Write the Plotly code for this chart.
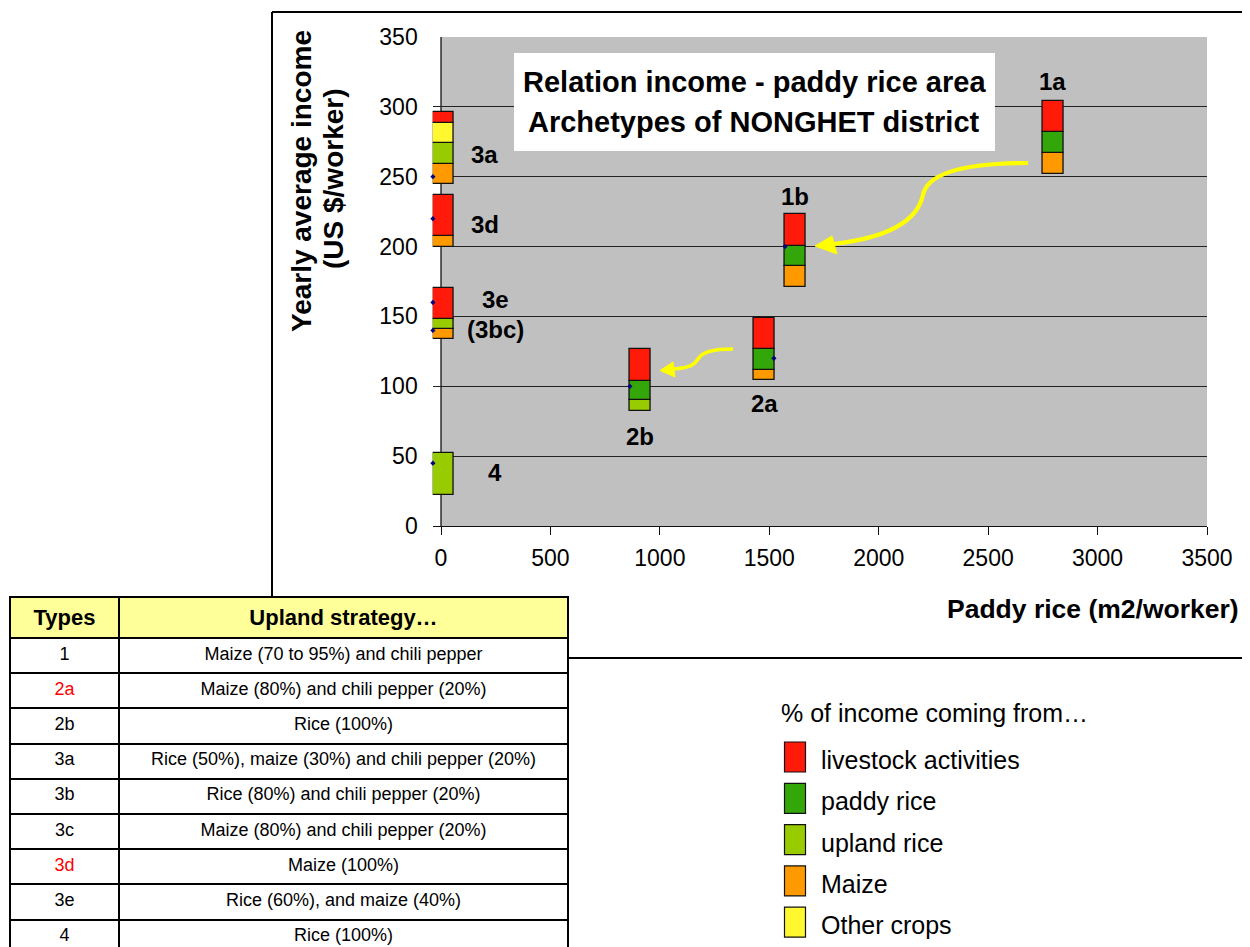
import plotly.graph_objects as go

W, H = 1250, 962
OFF = 8  # page body margin of the html page

# ---------------- data ----------------
types = ["1a", "1b", "2a", "2b", "3a", "3d", "3e", "4"]
paddy_area = [2797, 1618, 1475, 909, 12, 12, 12, 12]          # m2/worker (box centre)
stack_base = [252, 171, 104.5, 82.5, 245, 200, 134, 22.5]      # US$/worker (box bottom)

# income segments, stacked bottom -> top
sources = ["Maize", "upland rice", "paddy rice", "Other crops", "livestock activities"]
maize = [15, 15, 7.5, 0, 14, 7.5, 7, 0]
upland_rice = [0, 0, 0, 7.5, 15, 0, 7.5, 29.5]
paddy_rice = [15, 14.5, 14.5, 14, 0, 0, 0, 0]
other_crops = [0, 0, 0, 0, 14.5, 0, 0, 0]
livestock = [22, 22.5, 22.5, 22.5, 7.5, 29.5, 22, 0]
segments = [maize, upland_rice, paddy_rice, other_crops, livestock]
colors = {"livestock activities": "#FF1A0A", "paddy rice": "#33A60A",
          "upland rice": "#99CC00", "Maize": "#FF9900", "Other crops": "#FFF830"}
legend_order = ["livestock activities", "paddy rice", "upland rice", "Maize", "Other crops"]

# scatter points (average income)
point_x = [-37, -37, -37, -37, -37, 863, 1521, 1572]
point_y = [250, 220, 160, 140, 45, 100, 120, 200]

# labels of archetypes (data position)
label_text = ["1a", "1b", "2a", "2b", "3a", "3d", "3e", "(3bc)", "4"]
label_x = [2796, 1617, 1476, 909, 201, 201, 249, 249, 247]
label_y = [318.5, 235.5, 88, 64.4, 265.6, 215.5, 161.8, 141, 38]

# table
table_types = ["1", "2a", "2b", "3a", "3b", "3c", "3d", "3e", "4"]
table_strategy = ["Maize (70 to 95%) and chili pepper",
                  "Maize (80%) and chili pepper (20%)",
                  "Rice (100%)",
                  "Rice (50%), maize (30%) and chili pepper (20%)",
                  "Rice (80%) and chili pepper (20%)",
                  "Maize (80%) and chili pepper (20%)",
                  "Maize (100%)",
                  "Rice (60%), and maize (40%)",
                  "Rice (100%)"]
table_highlight = ["2a", "3d"]

x_ticks = [0, 500, 1000, 1500, 2000, 2500, 3000, 3500]
y_ticks = [0, 50, 100, 150, 200, 250, 300, 350]
x_range = [-38, 3500]
y_range = [0, 350]

FONT = "Arial, Liberation Sans, sans-serif"


def px(x):
    return (x - OFF) / W


def py(y):
    return 1 - (y - OFF) / H


# plot area on screen (x=0 .. 3500, y=0 .. 350)
X0_PX, X1_PX, Y0_PX, Y1_PX = 441, 1207, 526, 37
per_unit = (X1_PX - X0_PX) / (x_ticks[-1] - x_ticks[0])
left_px = X0_PX + (x_range[0] - x_ticks[0]) * per_unit

fig = go.Figure()

# stacked boxes
running = list(stack_base)
for name, vals in zip(sources, segments):
    xs, bs, hs = [], [], []
    for i, v in enumerate(vals):
        if v > 0:
            xs.append(paddy_area[i])
            bs.append(running[i])
            hs.append(v)
            running[i] += v
    fig.add_trace(go.Bar(x=xs, y=hs, base=bs, width=96, name=name,
                         marker=dict(color=colors[name], line=dict(color="#111", width=1.3)),
                         cliponaxis=False, showlegend=False, hoverinfo="skip"))

fig.add_trace(go.Scatter(x=point_x, y=point_y, mode="markers", cliponaxis=False,
                         marker=dict(color="#000080", size=4, symbol="diamond"),
                         showlegend=False, hoverinfo="skip"))

# table
cell_colors = [["red" if t in table_highlight else "black" for t in table_types],
               ["black"] * len(table_types)]
fig.add_trace(go.Table(
    domain=dict(x=[px(10), px(568)], y=[0, py(597)]),
    columnwidth=[109, 449],
    header=dict(values=["<b>Types</b>", "<b>Upland strategy…</b>"],
                fill_color="#FFFF99", line=dict(color="black", width=2),
                font=dict(family=FONT, size=22, color="black"), height=39, align="center"),
    cells=dict(values=[table_types, table_strategy],
               fill_color="white", line=dict(color="black", width=2),
               font=dict(family=FONT, size=18, color=cell_colors), height=35.2, align="center"),
))

shapes = []
# gray plotting area (x from 0) and value axis line at x = 0
shapes.append(dict(type="rect", xref="x", yref="y", x0=x_ticks[0], x1=x_ticks[-1],
                   y0=y_range[0], y1=y_range[1], fillcolor="#C0C0C0", line=dict(width=0),
                   layer="below"))
shapes.append(dict(type="line", xref="x", yref="y", x0=x_ticks[0], x1=x_ticks[0],
                   y0=y_range[0], y1=y_range[1], line=dict(color="#111", width=1.3),
                   layer="below"))
# outer chart border
for (x0, y0, x1, y1) in [(272, 12, 1260, 12), (272, 12, 272, 597), (568, 658, 1260, 658)]:
    shapes.append(dict(type="line", xref="paper", yref="paper", x0=px(x0), y0=py(y0),
                       x1=px(x1), y1=py(y1), line=dict(color="black", width=2)))
# title box
shapes.append(dict(type="rect", xref="paper", yref="paper", x0=px(514), y0=py(53), x1=px(995),
                   y1=py(151), fillcolor="white", line=dict(width=0), layer="above"))


def path(points):
    s = "M %f,%f" % (px(points[0][0]), py(points[0][1]))
    for k in range(1, len(points), 3):
        s += " C " + " ".join("%f,%f" % (px(a), py(b)) for a, b in points[k:k + 3])
    return s


def tri(points):
    return "M " + " L ".join("%f,%f" % (px(a), py(b)) for a, b in points) + " Z"


arrow1 = [(1028, 163), (975, 163), (928, 170), (923, 195), (917, 222), (885, 238), (834, 244)]
head1 = [(815, 246), (832, 236), (837, 254)]
arrow2 = [(733, 349), (712, 349), (702, 352), (698, 359), (693, 367), (685, 368), (673, 369)]
head2 = [(660, 370.5), (673, 362), (675, 377)]
for a, hd, w in [(arrow1, head1, 4.2), (arrow2, head2, 3.6)]:
    shapes.append(dict(type="path", xref="paper", yref="paper", path=path(a),
                       line=dict(color="#FFFF00", width=w), layer="above"))
    shapes.append(dict(type="path", xref="paper", yref="paper", path=tri(hd),
                       fillcolor="#FFFF00", line=dict(color="#FFFF00", width=1), layer="above"))

# legend boxes
legend_top = [742, 783.3, 824.6, 865.9, 907.2]
for name, top in zip(legend_order, legend_top):
    shapes.append(dict(type="rect", xref="paper", yref="paper", x0=px(784.5), x1=px(805.5),
                       y0=py(top), y1=py(top + 30), fillcolor=colors[name],
                       line=dict(color="#111", width=1.2)))

annotations = []
for t, xv, yv in zip(label_text, label_x, label_y):
    annotations.append(dict(x=xv, y=yv, xref="x", yref="y", text="<b>%s</b>" % t,
                            xanchor="center", yanchor="middle",
                            showarrow=False, font=dict(family=FONT, size=24, color="black")))


def note(x, y, text, size, bold=False, xanchor="center", angle=0):
    annotations.append(dict(x=px(x), y=py(y), xref="paper", yref="paper", showarrow=False,
                            xanchor=xanchor, yanchor="middle", textangle=angle,
                            text=("<b>%s</b>" % text) if bold else text,
                            font=dict(family=FONT, size=size, color="black")))


note(754.5, 82, "Relation income - paddy rice area", 29, bold=True)
note(754.5, 122, "Archetypes of NONGHET district", 29, bold=True)
note(302, 181, "Yearly average income", 28, bold=True, angle=-90)
note(333, 179, "(US $/worker)", 28, bold=True, angle=-90)
note(1241, 609, "Paddy rice (m2/worker)", 26.5, bold=True, xanchor="right")
note(779, 713, "% of income coming from…", 25, xanchor="left")
for name, top in zip(legend_order, legend_top):
    note(819, top + 18, name, 25, xanchor="left")

fig.update_layout(
    width=W, height=H, margin=dict(l=0, r=0, t=0, b=0),
    paper_bgcolor="white", plot_bgcolor="rgba(0,0,0,0)",
    barmode="overlay", bargap=0,
    font=dict(family=FONT, size=23, color="black"),
    shapes=shapes, annotations=annotations,
    xaxis=dict(domain=[px(left_px), px(X1_PX)], range=x_range, tickvals=x_ticks,
               showgrid=False, zeroline=False,
               showline=True, linecolor="#111", linewidth=1.3,
               ticks="outside", ticklen=8, tickcolor="#111", tickwidth=1.3,
               ticklabelstandoff=3, tickfont=dict(size=23), layer="below traces",
               automargin=False),
    yaxis=dict(domain=[py(Y0_PX), py(Y1_PX)], range=y_range, tickvals=y_ticks,
               showgrid=True, gridcolor="#222", gridwidth=1, zeroline=False,
               showline=False, ticks="", ticklabelstandoff=14,
               tickfont=dict(size=23), layer="below traces", automargin=False),
)

fig.write_html("out.html")
